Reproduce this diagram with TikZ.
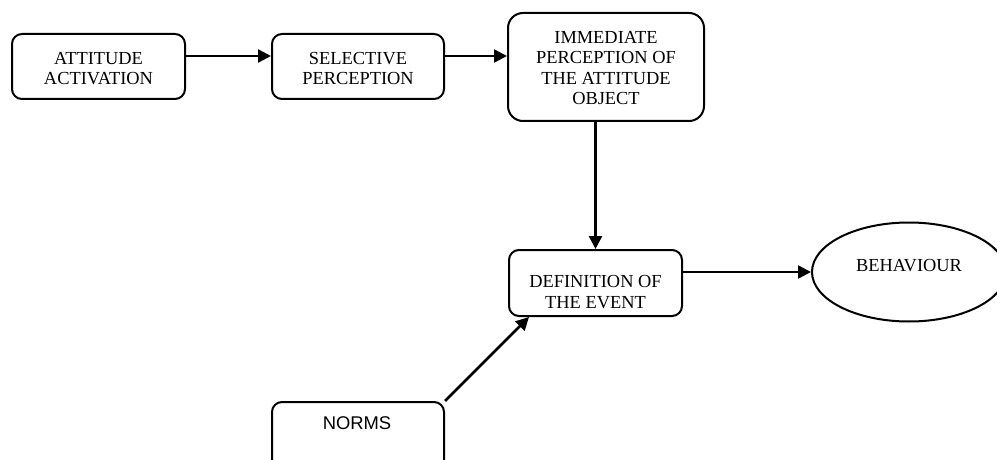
\documentclass[tikz,border=0pt]{standalone}
\usepackage{fontspec}
\setmainfont{Liberation Serif}
\newfontfamily\arialfont{Liberation Sans}
\usetikzlibrary{shapes.geometric,arrows.meta}
\begin{document}
\begin{tikzpicture}[x=1pt,y=-1pt,
  box/.style={draw,line width=2pt,rounded corners=10pt,inner sep=0pt},
  txt/.style={align=center,inner sep=0pt,font=\fontsize{18.4}{20.6}\selectfont},
  arr/.style={line width=2.5pt,-{Triangle[length=13pt,width=13pt]}}]
\useasboundingbox (0,0) rectangle (997,460);
\clip (0,0) rectangle (997,460);
\node[box,minimum width=173pt,minimum height=65pt] (att) at (98.5,66.5) {};
\node[txt] (attt) at (98.5,68.5) {ATTITUDE\\ACTIVATION};
\node[box,minimum width=172pt,minimum height=65pt] (sel) at (358,66.5) {};
\node[txt] (selt) at (358,68.5) {SELECTIVE\\PERCEPTION};
\node[box,rounded corners=15pt,minimum width=196pt,minimum height=108pt] (imm) at (606,67) {};
\node[txt] (immt) at (606,68) {IMMEDIATE\\PERCEPTION OF\\THE ATTITUDE\\OBJECT};
\node[box,minimum width=173pt,minimum height=66pt] (def) at (595.5,283) {};
\node[txt] (deft) at (595.5,292) {DEFINITION OF\\THE EVENT};
\node[draw,line width=2pt,ellipse,inner sep=0pt,minimum width=194pt,minimum height=99pt] (beh) at (909,272) {};
\node[txt] (beht) at (909,266) {BEHAVIOUR};
\node[box,minimum width=172pt,minimum height=90pt] (norms) at (358,447) {};
\node[txt,font=\arialfont\fontsize{18.4}{20.6}\selectfont] (normst) at (357,423) {NORMS};
\draw[arr] ([yshift=10.5pt]att.east) -- ([yshift=10.5pt]sel.west);
\draw[arr] ([yshift=10.5pt]sel.east) -- ([yshift=11pt]imm.west);
\draw[arr] (imm.south -| def.north) -- (def.north);
\draw[arr] ([yshift=11pt]def.east) -- (beh.west);
\draw[arr] (norms.north east) -- ([xshift=21pt]def.south west);
\end{tikzpicture}
\end{document}
